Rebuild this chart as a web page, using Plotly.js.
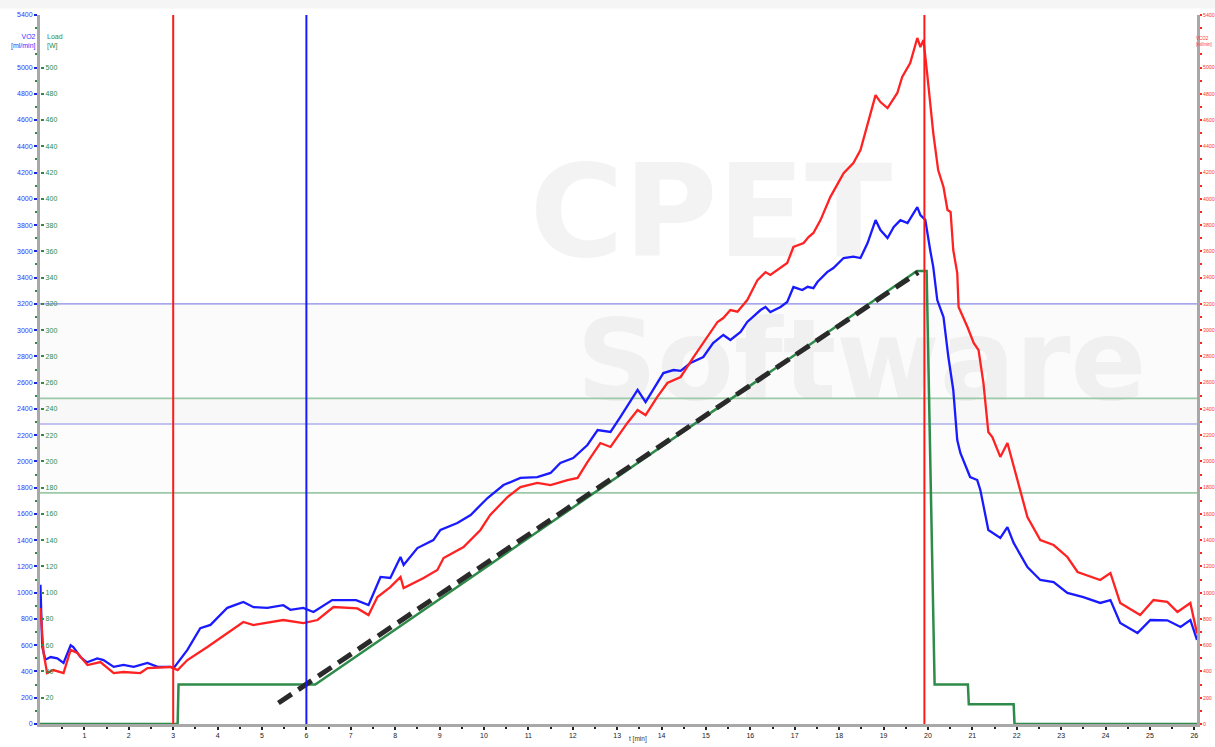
<!DOCTYPE html>
<html>
<head>
<meta charset="utf-8">
<script src="https://cdn.plot.ly/plotly-3.0.1.min.js"></script>
<style>
  html, body { margin: 0; padding: 0; background: #ffffff; }
  #chart { width: 1215px; height: 747px; }
</style>
</head>
<body>
<div id="chart"></div>
<script>
// ---- Oxygen uptake (VO2) over time ----
const vo2Time = [0.01,0.05,0.12,0.24,0.39,0.53,0.69,0.75,0.91,1.06,1.29,1.43,1.66,1.88,2.11,2.42,2.65,2.94,3.01,
  3.32,3.61,3.84,4.22,4.58,4.81,5.12,5.48,5.64,5.93,6.16,6.58,7.12,7.40,7.67,7.89,8.12,8.19,8.50,8.86,9.02,
  9.40,9.70,10.08,10.44,10.82,11.20,11.50,11.72,12.01,12.33,12.56,12.85,13.07,13.46,13.64,14.04,14.27,14.43,
  14.65,14.94,15.16,15.39,15.55,15.78,15.93,16.23,16.34,16.45,16.68,16.83,16.97,17.17,17.29,17.42,17.51,17.73,
  17.87,18.10,18.32,18.48,18.64,18.82,18.93,19.09,19.23,19.38,19.54,19.67,19.76,19.83,19.94,20.05,20.12,20.21,
  20.35,20.46,20.57,20.66,20.73,20.95,21.11,21.18,21.36,21.63,21.79,21.93,22.24,22.53,22.83,23.14,23.50,23.88,
  24.11,24.33,24.72,25.01,25.39,25.69,25.91,26.06];
const vo2Value = [1060,590,490,510,500,465,600,585,510,470,500,487,435,450,435,465,435,435,425,
  565,730,755,885,930,890,885,905,870,884,853,944,944,906,1120,1112,1272,1211,1340,1401,1478,
  1531,1592,1721,1820,1874,1881,1912,1988,2026,2125,2239,2224,2338,2544,2452,2673,2696,2690,
  2749,2795,2902,2963,2925,2986,3062,3153,3176,3138,3176,3214,3328,3305,3330,3320,3366,3442,
  3473,3549,3560,3549,3663,3838,3762,3701,3785,3838,3815,3892,3937,3876,3840,3610,3480,3229,
  3100,2795,2544,2163,2064,1881,1858,1782,1478,1417,1500,1379,1196,1097,1081,998,967,922,
  944,769,693,792,790,739,792,640];

// ---- Carbon dioxide output (VCO2) over time ----
const vco2Time = [0.01,0.08,0.16,0.30,0.53,0.69,0.84,1.07,1.36,1.66,1.88,2.26,2.42,2.94,3.10,3.32,3.77,4.22,
  4.58,4.81,5.48,5.93,6.25,6.61,7.15,7.40,7.60,7.89,8.12,8.19,8.64,8.95,9.09,9.54,9.92,10.14,10.53,10.82,
  11.20,11.50,11.88,12.11,12.33,12.62,12.85,13.23,13.46,13.64,13.90,14.13,14.43,14.72,14.94,15.26,15.39,
  15.55,15.71,15.93,16.16,16.34,16.45,16.68,16.83,16.97,17.20,17.31,17.42,17.58,17.80,18.10,18.32,18.48,
  18.64,18.82,18.93,19.09,19.31,19.42,19.60,19.76,19.83,19.90,19.99,20.12,20.23,20.35,20.44,20.51,20.57,
  20.66,20.69,20.89,21.03,21.14,21.25,21.36,21.45,21.63,21.79,22.01,22.24,22.53,22.83,23.14,23.37,23.88,
  24.11,24.33,24.78,25.08,25.39,25.62,25.91,26.06];
const vco2Value = [884,541,388,411,388,564,541,449,472,388,396,388,426,434,411,487,587,693,
  777,754,792,769,792,891,880,830,967,1043,1120,1036,1112,1173,1264,1348,1478,1592,1729,1805,
  1836,1820,1858,1874,1995,2140,2110,2293,2391,2353,2490,2597,2643,2795,2902,3062,3092,
  3153,3140,3229,3381,3442,3420,3473,3511,3633,3663,3709,3740,3838,4013,4196,4272,4372,
  4577,4790,4737,4691,4806,4928,5034,5225,5156,5209,4928,4501,4219,4090,3915,3900,3610,
  3435,3176,3024,2902,2848,2597,2224,2186,2034,2140,1858,1577,1401,1363,1272,1158,1097,
  1150,922,830,944,930,853,922,690];

// ---- Work rate (Load) protocol ----
const loadTime  = [0, 3.10, 3.12, 6.20, 19.75, 19.97, 20.15, 20.90, 20.92, 21.93, 21.95, 26.06];
const loadWatts = [0, 0,    30,   30,   345,   345,   30,    30,    15,    15,    0,     0];

// ---- Fitted work-rate line ----
const fitTime  = [5.37, 19.78];
const fitWatts = [16, 344];

// ---- Phase markers (minutes) ----
const phaseTimes  = [3.0, 6.0, 19.92];
const phaseColors = ['#ff1a1a', '#1a1aff', '#ff1a1a'];

// ---- Reference bands ----
const vo2BandLines  = [3200, 2285];   // ml/min
const loadBandLines = [248, 176];     // W

// ---- Tick labels ----
const mlTicks = [];
for (let v = 0; v <= 5400; v += 200) if (v !== 5200) mlTicks.push(v);
const mlMinor = [];
for (let v = 100; v <= 5400; v += 200) mlMinor.push(v);
const wTicks = [];
for (let v = 0; v <= 540; v += 20) if (v !== 520) wTicks.push(v);

const tickFont = (c, s) => ({ family: 'Liberation Sans, Arial, sans-serif', size: s || 7, color: c });

const traces = [
  {
    x: loadTime, y: loadWatts, yaxis: 'y3', mode: 'lines', name: 'Load',
    line: { color: '#2e8b4a', width: 2.5 }, hoverinfo: 'skip'
  },
  {
    x: vo2Time, y: vo2Value, yaxis: 'y', mode: 'lines', name: 'VO2',
    line: { color: '#1a1aff', width: 2.3 }
  },
  {
    x: vco2Time, y: vco2Value, yaxis: 'y2', mode: 'lines', name: 'VCO2',
    line: { color: '#ff2222', width: 2.3 }
  },
  {
    x: fitTime, y: fitWatts, yaxis: 'y3', mode: 'lines', name: 'fit',
    line: { color: '#2a2a2a', width: 5, dash: '16px,8px' }, hoverinfo: 'skip'
  }
];

const shapes = [];
// light strip along the top edge of the page
shapes.push({ type: 'rect', xref: 'paper', yref: 'paper', x0: -0.04, x1: 1.02, y0: 1.009, y1: 1.03,
  line: { width: 0 }, fillcolor: '#f5f5f5', layer: 'below' });
// watermark text, behind the data
shapes.push({
  type: 'rect', xref: 'paper', yref: 'paper', x0: 0.46, x1: 0.70, y0: 0.64, y1: 0.83,
  line: { width: 0 }, fillcolor: 'rgba(0,0,0,0)', layer: 'below',
  label: { text: 'CPET', font: { family: 'DejaVu Sans', size: 128, color: '#f3f3f3', weight: 'bold' },
           textposition: 'middle center' }
});
shapes.push({
  type: 'rect', xref: 'paper', yref: 'paper', x0: 0.46, x1: 0.96, y0: 0.45, y1: 0.60,
  line: { width: 0 }, fillcolor: 'rgba(0,0,0,0)', layer: 'below',
  label: { text: 'Software', font: { family: 'DejaVu Sans', size: 112, color: '#f4f4f4', weight: 'bold' },
           textposition: 'middle center' }
});
// shaded threshold bands
shapes.push({ type: 'rect', xref: 'paper', yref: 'y', x0: 0, x1: 1, y0: vo2BandLines[1], y1: vo2BandLines[0],
  line: { width: 0 }, fillcolor: 'rgba(0,0,0,0.014)', layer: 'below' });
shapes.push({ type: 'rect', xref: 'paper', yref: 'y3', x0: 0, x1: 1, y0: loadBandLines[1], y1: loadBandLines[0],
  line: { width: 0 }, fillcolor: 'rgba(0,0,0,0.012)', layer: 'below' });
vo2BandLines.forEach(v => shapes.push({
  type: 'line', xref: 'paper', yref: 'y', x0: 0, x1: 1, y0: v, y1: v,
  line: { color: '#8a8ae6', width: 1.2 }, layer: 'below'
}));
loadBandLines.forEach(v => shapes.push({
  type: 'line', xref: 'paper', yref: 'y3', x0: 0, x1: 1, y0: v, y1: v,
  line: { color: '#9cc9a8', width: 1.8 }, layer: 'below'
}));
phaseTimes.forEach((t, i) => shapes.push({
  type: 'line', xref: 'x', yref: 'paper', x0: t, x1: t, y0: 0, y1: 1,
  line: { color: phaseColors[i], width: 2 }
}));

const annotations = [
  { xref: 'paper', yref: 'paper', x: -0.002, y: 0.962, xanchor: 'right', yanchor: 'middle', showarrow: false,
    text: 'VO2<br>[ml/min]', align: 'right', font: tickFont('#3333ff') },
  { xref: 'paper', yref: 'paper', x: 0.004, y: 0.962, xanchor: 'left', yanchor: 'middle', showarrow: false,
    text: 'Load<br>[W]', align: 'left', font: tickFont('#2e8b4a') },
  { xref: 'paper', yref: 'paper', x: 1.0146, y: 0.962, xanchor: 'right', yanchor: 'middle', showarrow: false,
    text: 'VCO2<br>[ml/min]', align: 'left', font: tickFont('#ff3333', 4.5) },
  { xref: 'paper', yref: 'paper', x: 0.5075, y: -0.030, xanchor: 'left', yanchor: 'bottom', showarrow: false,
    text: 't [min]', font: tickFont('#333333', 6.5) }
];

const layout = {
  width: 1215, height: 747,
  margin: { l: 40, r: 18, t: 15, b: 23, pad: 0 },
  paper_bgcolor: '#ffffff', plot_bgcolor: '#ffffff',
  showlegend: false,
  xaxis: {
    range: [0, 26.06], dtick: 1, tick0: 0, showgrid: false, zeroline: false,
    showline: true, linecolor: '#a8a8a8', linewidth: 3,
    ticks: 'outside', ticklen: 3, tickwidth: 2, tickcolor: '#222',
    tickfont: tickFont('#222'),
    minor: { dtick: 0.5, ticks: 'outside', ticklen: 2, tickwidth: 2, tickcolor: '#222' }
  },
  yaxis: {
    range: [0, 5400], tickmode: 'array', tickvals: mlTicks, ticktext: mlTicks.map(String),
    showgrid: false, zeroline: false, showline: true, linecolor: '#a8a8a8', linewidth: 3,
    ticks: 'outside', ticklen: 3, tickwidth: 2, tickcolor: '#2222dd',
    tickfont: tickFont('#3333ff'),
    minor: { tickvals: mlMinor, ticks: 'outside', ticklen: 2, tickwidth: 2, tickcolor: '#2e8b4a' }
  },
  yaxis2: {
    range: [0, 5400], overlaying: 'y', side: 'right', anchor: 'x',
    tickmode: 'array', tickvals: mlTicks, ticktext: mlTicks.map(String),
    showgrid: false, zeroline: false, showline: true, linecolor: '#a8a8a8', linewidth: 3,
    ticks: 'outside', ticklen: 2, tickwidth: 2, tickcolor: '#ff2222',
    tickfont: tickFont('#ff3333', 5.2),
    minor: { tickvals: mlMinor, ticks: 'outside', ticklen: 2, tickwidth: 2, tickcolor: '#ff2222' }
  },
  yaxis3: {
    range: [0, 540], overlaying: 'y', side: 'left', anchor: 'free', position: 0,
    tickmode: 'array', tickvals: wTicks, ticktext: wTicks.map(String),
    ticklabelposition: 'inside', ticks: 'inside', ticklen: 3, tickwidth: 2, tickcolor: '#2e8b4a',
    showgrid: false, zeroline: false, showline: false,
    tickfont: tickFont('#2e8b4a')
  },
  shapes: shapes,
  annotations: annotations
};

Plotly.newPlot('chart', traces, layout, { displayModeBar: false, staticPlot: true });
</script>
</body>
</html>
